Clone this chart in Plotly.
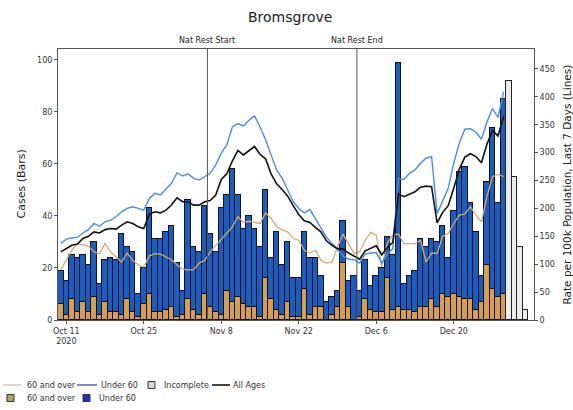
import plotly.graph_objects as go
import pandas as pd

# ---------------- data ----------------
dates = pd.date_range("2020-10-10", periods=85, freq="D")
complete_dates = dates[:81]
incomplete_dates = dates[81:]

cases_60_plus = [6, 2, 8, 3, 7, 3, 9, 2, 7, 3,
                 3, 2, 8, 3, 1, 6, 10, 3, 3, 4,
                 5, 1, 2, 8, 4, 2, 10, 5, 3, 2,
                 11, 7, 9, 6, 5, 5, 1, 16, 8, 4,
                 2, 7, 1, 1, 12, 2, 5, 5, 0, 2,
                 5, 22, 5, 0, 1, 8, 4, 3, 3, 16,
                 4, 5, 4, 4, 3, 5, 5, 8, 5, 10,
                 9, 10, 9, 8, 8, 4, 7, 21, 12, 9,
                 10]
cases_under_60 = [13, 13, 17, 21, 18, 18, 21, 12, 16, 21,
                  20, 31, 20, 23, 9, 14, 33, 28, 28, 30,
                  31, 21, 9, 38, 24, 24, 34, 28, 23, 41,
                  37, 51, 39, 29, 35, 30, 27, 34, 16, 30,
                  19, 23, 15, 15, 22, 22, 19, 12, 7, 7,
                  6, 16, 10, 17, 10, 15, 9, 14, 17, 16,
                  21, 94, 10, 13, 16, 26, 23, 23, 25, 26,
                  15, 32, 48, 51, 37, 30, 10, 32, 62, 36,
                  75]
cases_incomplete = [92, 55, 28, 4]

rate_all_ages = [122, 128, 134, 136, 146, 150, 158, 156, 162, 164,
                 163, 170, 176, 173, 167, 164, 190, 194, 192, 197,
                 206, 219, 212, 212, 206, 206, 212, 214, 224, 252,
                 262, 285, 304, 296, 303, 311, 297, 289, 262, 244,
                 234, 222, 205, 189, 178, 175, 166, 158, 142, 134,
                 128, 127, 120, 115, 109, 124, 128, 133, 117, 130,
                 139, 226, 221, 226, 230, 238, 240, 239, 174, 193,
                 205, 236, 270, 292, 298, 293, 282, 315, 340, 330,
                 365]
rate_under_60 = [137, 145, 147, 148, 156, 162, 173, 168, 176, 179,
                 185, 194, 200, 203, 200, 197, 218, 227, 224, 234,
                 245, 264, 258, 262, 254, 251, 257, 263, 278, 299,
                 314, 346, 352, 348, 358, 366, 346, 323, 296, 269,
                 254, 233, 212, 200, 192, 198, 182, 164, 149, 137,
                 125, 115, 109, 108, 102, 118, 120, 121, 102, 118,
                 128, 254, 252, 263, 269, 281, 290, 293, 191, 215,
                 236, 281, 317, 342, 343, 337, 324, 355, 379, 363,
                 409]
rate_60_plus = [90, 107, 125, 137, 134, 132, 122, 119, 137, 122,
                113, 104, 120, 107, 99, 95, 115, 119, 118, 113,
                108, 99, 91, 90, 90, 102, 107, 122, 133, 145,
                156, 167, 185, 175, 177, 175, 173, 192, 182, 168,
                161, 158, 146, 143, 125, 120, 125, 107, 102, 104,
                131, 154, 137, 119, 122, 143, 157, 152, 95, 138,
                152, 154, 137, 137, 137, 143, 104, 120, 119, 150,
                155, 173, 188, 190, 203, 188, 176, 221, 257, 261,
                257]

tick_dates = ["2020-10-11", "2020-10-25", "2020-11-08", "2020-11-22", "2020-12-06", "2020-12-20"]
tick_labels = ["Oct 11<br>2020", "Oct 25", "Nov 8", "Nov 22", "Dec 6", "Dec 20"]
case_ticks = [0, 20, 40, 60, 80, 100]
rate_ticks = [0, 50, 100, 150, 200, 250, 300, 350, 400, 450]
event_dates = ["2020-11-05 12:00", "2020-12-02 12:00"]
event_labels = ["Nat Rest Start", "Nat Rest End"]

# ---------------- style ----------------
FONT = "DejaVu Sans"
C_U60_BAR = "#1a5dc2"
C_60_BAR = "#d69e4e"
C_INC = "#ececec"
C_U60_LINE = "#4a8ee0"
C_60_LINE = "#d2ac72"
C_ALL = "#111111"
DAY_MS = 86400000

W, H = 573, 410
L, R, T, B = 58, 39, 49, 90
PW, PH = W - L - R, H - T - B


def px(x):
    return (x - L) / PW


def py(y):
    return (H - B - y) / PH


fig = go.Figure()
fig.add_trace(go.Bar(x=complete_dates, y=cases_60_plus, name="60 and over",
                     marker=dict(color=C_60_BAR, line=dict(color="#111", width=1)),
                     width=DAY_MS, showlegend=False))
fig.add_trace(go.Bar(x=complete_dates, y=cases_under_60, name="Under 60",
                     marker=dict(color=C_U60_BAR, line=dict(color="#111", width=1)),
                     width=DAY_MS, showlegend=False))
fig.add_trace(go.Bar(x=incomplete_dates, y=cases_incomplete, name="Incomplete",
                     marker=dict(color=C_INC, line=dict(color="#222", width=1)),
                     width=DAY_MS, showlegend=False))
fig.add_trace(go.Scatter(x=complete_dates, y=rate_60_plus, yaxis="y2", mode="lines",
                         line=dict(color=C_60_LINE, width=1.3), name="60 and over", showlegend=False))
fig.add_trace(go.Scatter(x=complete_dates, y=rate_under_60, yaxis="y2", mode="lines",
                         line=dict(color=C_U60_LINE, width=1.4), name="Under 60", showlegend=False))
fig.add_trace(go.Scatter(x=complete_dates, y=rate_all_ages, yaxis="y2", mode="lines",
                         line=dict(color=C_ALL, width=1.6), name="All Ages", showlegend=False))

shapes = []
annotations = []
for d, lab in zip(event_dates, event_labels):
    shapes.append(dict(type="line", xref="x", yref="paper", x0=d, x1=d, y0=0, y1=1,
                       line=dict(color="#555", width=1)))
    annotations.append(dict(x=d, y=1, xref="x", yref="paper", text=lab, showarrow=False,
                            yanchor="bottom", yshift=2, font=dict(size=8, color="#222", family=FONT)))

# title and axis titles
annotations.append(dict(x=px(290), y=py(17), xref="paper", yref="paper", text="Bromsgrove",
                        showarrow=False, xanchor="center", yanchor="middle",
                        font=dict(size=14, color="#222", family=FONT)))
annotations.append(dict(x=px(21), y=0.5, xref="paper", yref="paper", text="Cases (Bars)",
                        showarrow=False, textangle=-90, xanchor="center", yanchor="middle",
                        font=dict(size=11, color="#222", family=FONT)))
annotations.append(dict(x=px(566), y=0.5, xref="paper", yref="paper",
                        text="Rate per 100k Population, Last 7 Days (Lines)",
                        showarrow=False, textangle=-90, xanchor="center", yanchor="middle",
                        font=dict(size=10.5, color="#222", family=FONT)))

# manual legend (two rows, like the original)
row1, row2 = 385, 398


def leg_line(x0, x1, y, color, width):
    shapes.append(dict(type="line", xref="paper", yref="paper", x0=px(x0), x1=px(x1),
                       y0=py(y), y1=py(y), line=dict(color=color, width=width)))


def leg_box(x0, x1, y, color):
    shapes.append(dict(type="rect", xref="paper", yref="paper", x0=px(x0), x1=px(x1),
                       y0=py(y + 3.5), y1=py(y - 3.5), fillcolor=color,
                       line=dict(color="#333", width=1)))


def leg_text(x, y, text):
    annotations.append(dict(x=px(x), y=py(y), xref="paper", yref="paper", text=text,
                            showarrow=False, xanchor="left", yanchor="middle",
                            font=dict(size=8, color="#333", family=FONT)))


leg_line(3, 21, row1, "#b8b0a0", 1)
leg_text(25, row1, "60 and over")
leg_line(77, 97, row1, "#3535c0", 1.2)
leg_text(99, row1, "Under 60")
leg_box(148, 155, row1, "#d8d8d8")
leg_text(162, row1, "Incomplete")
leg_line(212, 230, row1, "#111", 1.6)
leg_text(231, row1, "All Ages")
leg_box(7, 14, row2, "#a8a860")
leg_text(25, row2, "60 and over")
leg_box(83, 90, row2, "#2a2ac8")
leg_text(97, row2, "Under 60")

axis_common = dict(showgrid=False, zeroline=False, showline=True, linecolor="#555", linewidth=1,
                   ticks="outside", ticklen=3, tickcolor="#555",
                   tickfont=dict(size=8, color="#333", family=FONT))

fig.update_layout(
    width=W, height=H, margin=dict(l=L, r=R, t=T, b=B, autoexpand=False),
    paper_bgcolor="white", plot_bgcolor="white",
    barmode="stack", bargap=0,
    font=dict(family=FONT, color="#222"),
    xaxis=dict(type="date", range=["2020-10-09 12:00", "2021-01-03 12:00"],
               tickvals=tick_dates, ticktext=tick_labels, mirror=True, **axis_common),
    yaxis=dict(range=[0, 104.2], tickvals=case_ticks, **axis_common),
    yaxis2=dict(overlaying="y", side="right", range=[0, 485.8], tickvals=rate_ticks,
                **axis_common),
    shapes=shapes, annotations=annotations, showlegend=False,
)

fig.write_html("out.html", config={"displayModeBar": False},
               post_script="document.body.style.margin='0px';")
